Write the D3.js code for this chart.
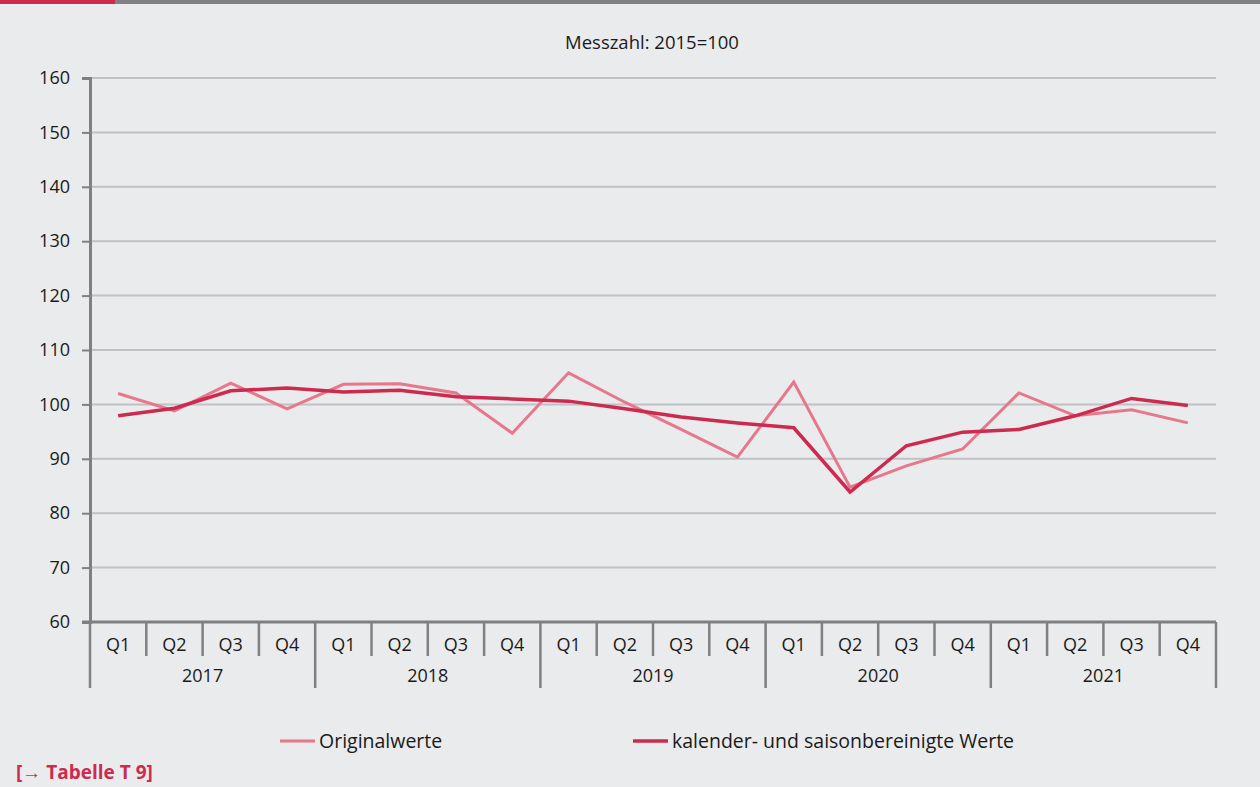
<!DOCTYPE html>
<html>
<head>
<meta charset="utf-8">
<script src="https://cdn.jsdelivr.net/npm/d3@7"></script>
<style>
  body { margin: 0; background: #eaebed; }
  svg { display: block; font-family: "Open Sans", "Noto Sans", sans-serif; }
</style>
</head>
<body>
<div class="container"></div>
<script>
// chart data
const years = ["2017", "2018", "2019", "2020", "2021"];
const quarters = ["Q1", "Q2", "Q3", "Q4"];
const original = [102.0, 98.8, 103.9, 99.2, 103.7, 103.8, 102.1, 94.7, 105.8, 100.4, 95.4, 90.3, 104.1, 84.8, 88.7, 91.8, 102.1, 97.9, 99.0, 96.6];
const adjusted = [97.9, 99.3, 102.5, 103.0, 102.3, 102.6, 101.4, 101.0, 100.6, 99.2, 97.7, 96.6, 95.7, 83.9, 92.4, 94.9, 95.4, 97.9, 101.1, 99.8];
const yTicks = [60, 70, 80, 90, 100, 110, 120, 130, 140, 150, 160];

const width = 1260, height = 787;
const margin = { top: 78, bottom: 165, left: 90, right: 44 };

const svg = d3.select(".container")
  .append("svg")
  .attr("width", width)
  .attr("height", height);

svg.append("rect").attr("width", width).attr("height", height).attr("fill", "#eaebed");

// top bar
svg.append("rect").attr("x", 0).attr("y", 0).attr("width", width).attr("height", 4).attr("fill", "#808085");
svg.append("rect").attr("x", 0).attr("y", 0).attr("width", 115).attr("height", 4).attr("fill", "#cd2a4e");

// category keys
const keys = [];
years.forEach(y => quarters.forEach(q => keys.push(y + q)));

const xScale = d3.scaleBand()
  .domain(keys)
  .range([margin.left, width - margin.right]);

const yScale = d3.scaleLinear()
  .domain([60, 160])
  .range([height - margin.bottom, margin.top]);

// title
svg.append("text")
  .attr("x", 652).attr("y", 49)
  .attr("text-anchor", "middle")
  .attr("font-size", 18.5)
  .attr("fill", "#1a1a1a")
  .text("Messzahl: 2015=100");

// grid lines
svg.append("g")
  .selectAll("line")
  .data(yTicks.filter(d => d > 60))
  .join("line")
  .attr("x1", margin.left)
  .attr("x2", width - margin.right)
  .attr("y1", d => yScale(d))
  .attr("y2", d => yScale(d))
  .attr("stroke", "#c0c1c5")
  .attr("stroke-width", 2);

// y axis
const yAxis = svg.append("g")
  .attr("transform", `translate(${margin.left},0)`)
  .call(d3.axisLeft(yScale).tickValues(yTicks).tickSize(8).tickPadding(12));
yAxis.select(".domain").attr("stroke", "#808080").attr("stroke-width", 3);
yAxis.selectAll(".tick line").attr("stroke", "#808080").attr("stroke-width", 2);
yAxis.selectAll(".tick text").attr("font-size", 18).attr("fill", "#1a1a1a").attr("font-family", "Open Sans");

// x axis base line
const y0 = yScale(60);
svg.append("line")
  .attr("x1", margin.left - 8).attr("x2", width - margin.right)
  .attr("y1", y0).attr("y2", y0)
  .attr("stroke", "#808080").attr("stroke-width", 3);

// quarter separators
svg.append("g")
  .selectAll("line")
  .data(keys.filter((d, i) => i % 4 !== 0))
  .join("line")
  .attr("x1", d => xScale(d)).attr("x2", d => xScale(d))
  .attr("y1", y0).attr("y2", y0 + 34)
  .attr("stroke", "#808080").attr("stroke-width", 2.5);

// year separators
const yearEdges = years.map(y => xScale(y + "Q1")).concat([width - margin.right]);
svg.append("g")
  .selectAll("line")
  .data(yearEdges)
  .join("line")
  .attr("x1", d => d).attr("x2", d => d)
  .attr("y1", y0).attr("y2", y0 + 66)
  .attr("stroke", "#808080").attr("stroke-width", 2.5);

// quarter labels
svg.append("g")
  .selectAll("text")
  .data(keys)
  .join("text")
  .attr("x", d => xScale(d) + xScale.bandwidth() / 2)
  .attr("y", y0 + 29)
  .attr("text-anchor", "middle")
  .attr("font-size", 18)
  .attr("fill", "#1a1a1a")
  .text(d => d.slice(4));

// year labels
svg.append("g")
  .selectAll("text")
  .data(years)
  .join("text")
  .attr("x", d => xScale(d + "Q1") + xScale.bandwidth() * 2)
  .attr("y", y0 + 60)
  .attr("text-anchor", "middle")
  .attr("font-size", 18)
  .attr("fill", "#1a1a1a")
  .text(d => d);

// lines
const line = d3.line()
  .x((d, i) => xScale(keys[i]) + xScale.bandwidth() / 2)
  .y(d => yScale(d));

svg.append("path")
  .datum(original)
  .attr("d", line)
  .attr("fill", "none")
  .attr("stroke", "#e7778b")
  .attr("stroke-width", 3);

svg.append("path")
  .datum(adjusted)
  .attr("d", line)
  .attr("fill", "none")
  .attr("stroke", "#cc2a4e")
  .attr("stroke-width", 3.5);

// legend
const legend = [
  { label: "Originalwerte", color: "#e7778b", x: 280, w: 3 },
  { label: "kalender- und saisonbereinigte Werte", color: "#cc2a4e", x: 633, w: 3.5 }
];
const lg = svg.append("g");
legend.forEach(l => {
  lg.append("line")
    .attr("x1", l.x).attr("x2", l.x + 35)
    .attr("y1", 741).attr("y2", 741)
    .attr("stroke", l.color).attr("stroke-width", l.w);
  lg.append("text")
    .attr("x", l.x + 39).attr("y", 748)
    .attr("font-size", 19.5)
    .attr("fill", "#1a1a1a")
    .text(l.label);
});

// link text
svg.append("text")
  .attr("x", 16).attr("y", 779)
  .attr("font-size", 19)
  .attr("font-weight", "bold")
  .attr("fill", "#cd2a4e")
  .text("[→ Tabelle T 9]");
</script>
</body>
</html>
